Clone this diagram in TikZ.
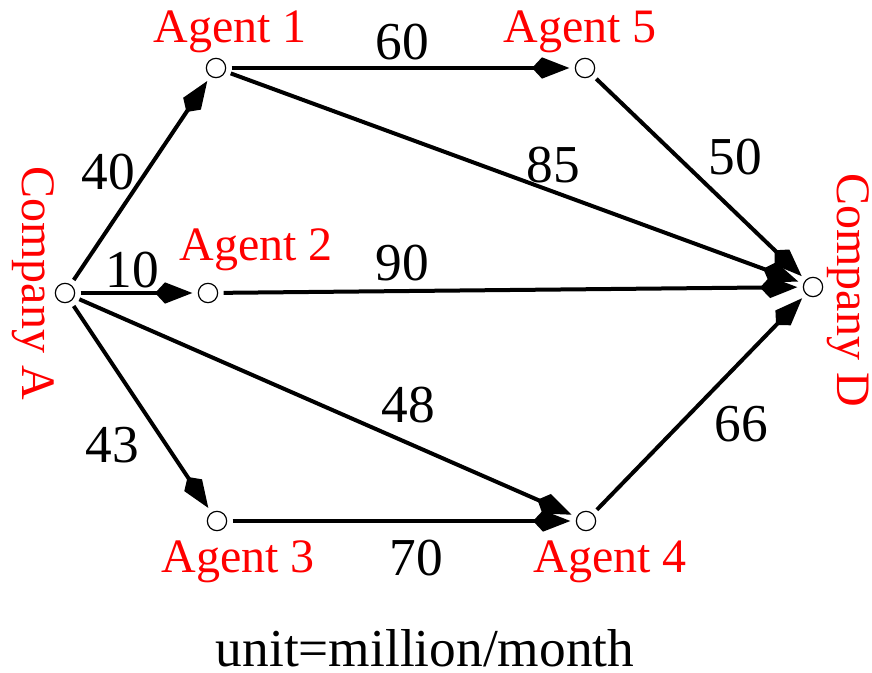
\documentclass[tikz,border=0pt]{standalone}
\usepackage{fontspec}
\setmainfont{Liberation Serif}
\usetikzlibrary{arrows.meta,positioning}

\begin{document}
\begin{tikzpicture}[x=0.75pt,y=-0.75pt,
  point/.style={circle,draw,line width=0.9pt,inner sep=0pt,minimum size=14.5pt,outer sep=4.5pt},
  edge/.style={line width=3pt,-{Kite[length=28pt,width=16pt,inset=7.5pt]}},
  agentlbl/.style={text=red,font=\fontsize{36}{40}\selectfont,inner sep=0pt},
  weight/.style={font=\fontsize{40}{44}\selectfont,inner sep=0pt}]
\useasboundingbox (0,0) rectangle (872,673);

\node(ca)[point] at (65,293) {};
\node(a1)[point] at (216,68) {};
\node(a2)[point] at (208,293) {};
\node(a3)[point] at (217,521) {};
\node(a4)[point] at (586,521) {};
\node(a5)[point] at (585,68) {};
\node(cd)[point] at (813,287) {};

\node(calbl)[agentlbl,rotate=-90] at (33,283) {Company A};
\node(cdlbl)[agentlbl,rotate=-90] at (848,290) {Company D};
\node(a1lbl)[agentlbl] at (230,32) {Agent 1};
\node(a2lbl)[agentlbl] at (256,250) {Agent 2};
\node(a3lbl)[agentlbl] at (238,562) {Agent 3};
\node(a4lbl)[agentlbl] at (610,562) {Agent 4};
\node(a5lbl)[agentlbl] at (580,32) {Agent 5};

\draw [edge] (ca) to (a1);
\draw [edge] (ca) to (a2);
\draw [edge] (ca) to (a3);
\draw [edge] (ca) to (a4);
\draw [edge] (a1) to (a5);
\draw [edge] (a1) to (cd);
\draw [edge] (a5) to (cd);
\draw [edge] (a2) to (cd);
\draw [edge] (a4) to (cd);
\draw [edge] (a3) to (a4);

\node(w40)[weight] at (108,172) {40};
\node(w10)[weight] at (132,270) {10};
\node(w43)[weight] at (112,445) {43};
\node(w48)[weight] at (408,405) {48};
\node(w60)[weight] at (402,42) {60};
\node(w85)[weight] at (553,165) {85};
\node(w50)[weight] at (735,157) {50};
\node(w90)[weight] at (402,263) {90};
\node(w66)[weight] at (741,424) {66};
\node(w70)[weight] at (416,558) {70};
\node(unit)[weight] at (425,648) {unit=million/month};
\end{tikzpicture}
\end{document}
